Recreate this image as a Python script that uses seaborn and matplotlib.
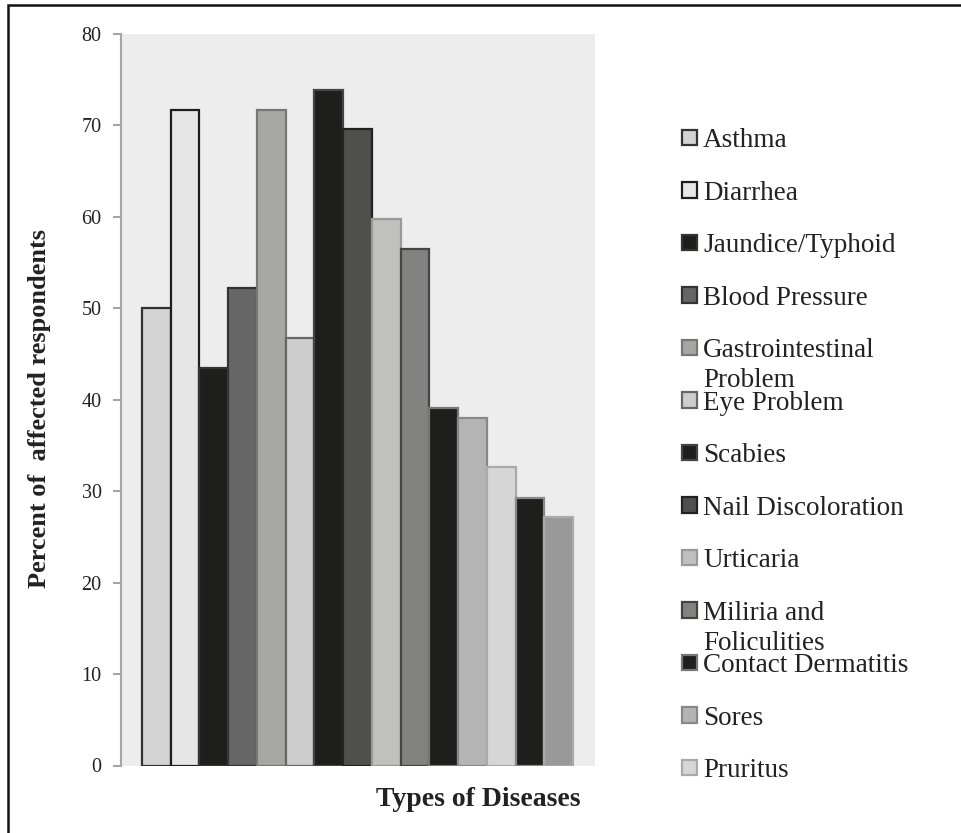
import matplotlib
matplotlib.use("Agg")
import matplotlib.pyplot as plt
from matplotlib.patches import Rectangle
import seaborn as sns
import pandas as pd

# ---- data ----
diseases = [
    "Asthma", "Diarrhea", "Jaundice/Typhoid", "Blood Pressure",
    "Gastrointestinal\nProblem", "Eye Problem", "Scabies", "Nail Discoloration",
    "Urticaria", "Miliria and\nFoliculities", "Contact Dermatitis", "Sores",
    "Pruritus", "Disease 14", "Disease 15",
]
percent = [50.0, 71.7, 43.5, 52.2, 71.7, 46.7, 73.9, 69.6,
           59.8, 56.5, 39.1, 38.0, 32.6, 29.3, 27.2]
legend_count = 13  # the reference legend lists only the first 13 diseases
y_ticks = [0, 10, 20, 30, 40, 50, 60, 70, 80]

# ---- styles ----
fill_colors = ["#d4d4d4", "#e6e6e6", "#1e1e1c", "#666666", "#a6a6a4",
               "#cdcdcd", "#1e1e1c", "#4f4f4d", "#c0c0be", "#828280",
               "#1e1e1c", "#b4b4b4", "#d6d6d6", "#1e1e1c", "#999999"]
edge_colors = ["#333333", "#1e1e1e", "#333333", "#333333", "#777777",
               "#666666", "#444444", "#222222", "#999999", "#444444",
               "#777777", "#888888", "#aaaaaa", "#888888", "#aaaaaa"]

df = pd.DataFrame({"disease": diseases, "percent": percent})

sns.set_theme(style="white")
plt.rcParams["font.family"] = ["Liberation Serif", "DejaVu Serif"]

fig = plt.figure(figsize=(9.61, 8.33), dpi=100)
fig.patch.set_facecolor("white")
ax = fig.add_axes([121 / 961, 1 - 765.5 / 833, 474 / 961, 731.5 / 833])
ax.set_facecolor("#ededed")

sns.barplot(data=df, x="disease", y="percent", hue="disease",
            palette=dict(zip(diseases, fill_colors)), width=1.0,
            legend=False, ax=ax, saturation=1)

bars = list(ax.patches)
for b, ec in zip(bars, edge_colors):
    b.set_edgecolor(ec)
    b.set_linewidth(1.6)

ax.set_xlim(-1.231, 15.266)
ax.set_ylim(0, 80)
ax.set_yticks(y_ticks)
ax.set_yticklabels([str(t) for t in y_ticks], fontsize=14.5, color="#222222")
ax.set_xticks([])
for s in ["top", "right", "bottom"]:
    ax.spines[s].set_visible(False)
ax.spines["left"].set_color("#a6a6a6")
ax.spines["left"].set_linewidth(1.5)
ax.tick_params(axis="y", left=True, length=6, width=1.5, color="#a6a6a6", pad=8)

ax.set_xlabel("Types of Diseases", fontsize=20, fontweight="bold", color="#222222")
ax.xaxis.set_label_coords((478 - 121) / 474, (765.5 - 800) / 731.5)
ax.xaxis.label.set_va("center")
ax.set_ylabel("Percent of  affected respondents", fontsize=19,
              fontweight="bold", color="#222222")
ax.yaxis.set_label_coords((40 - 121) / 474, (765.5 - 408) / 731.5)
ax.yaxis.label.set_va("center")

# legend: first line of each label, second lines added below (as in reference)
first_lines = [d.split("\n")[0] for d in diseases[:legend_count]]
leg = ax.legend(bars[:legend_count], first_lines, loc="upper left",
                bbox_to_anchor=(682 / 961, 1 - 128 / 833),
                bbox_transform=fig.transFigure, frameon=False,
                fontsize=19.5, handlelength=0.56, handleheight=0.52,
                handletextpad=0.22, labelspacing=1.016, borderpad=0,
                borderaxespad=0)
for t in leg.get_texts():
    t.set_color("#222222")
for h in leg.legend_handles:
    h.set_linewidth(1.6)

fig.canvas.draw()
for i, d in enumerate(diseases[:legend_count]):
    parts = d.split("\n")
    if len(parts) > 1:
        ann = ax.annotate(parts[1], xy=(0, 0.5), xycoords=leg.get_texts()[i],
                          xytext=(0, -21.6), textcoords="offset points",
                          ha="left", va="center", fontsize=19.5,
                          color="#222222", annotation_clip=False)
        ann.set_zorder(10)

# outer frame (left and top edges visible in the reference)
fig.patches.append(Rectangle((8 / 961, -0.2), 1.5, 0.2 + 1 - 5 / 833,
                             transform=fig.transFigure, fill=False,
                             edgecolor="#111111", linewidth=1.8))

fig.savefig("out.png", dpi=100, facecolor="white")
